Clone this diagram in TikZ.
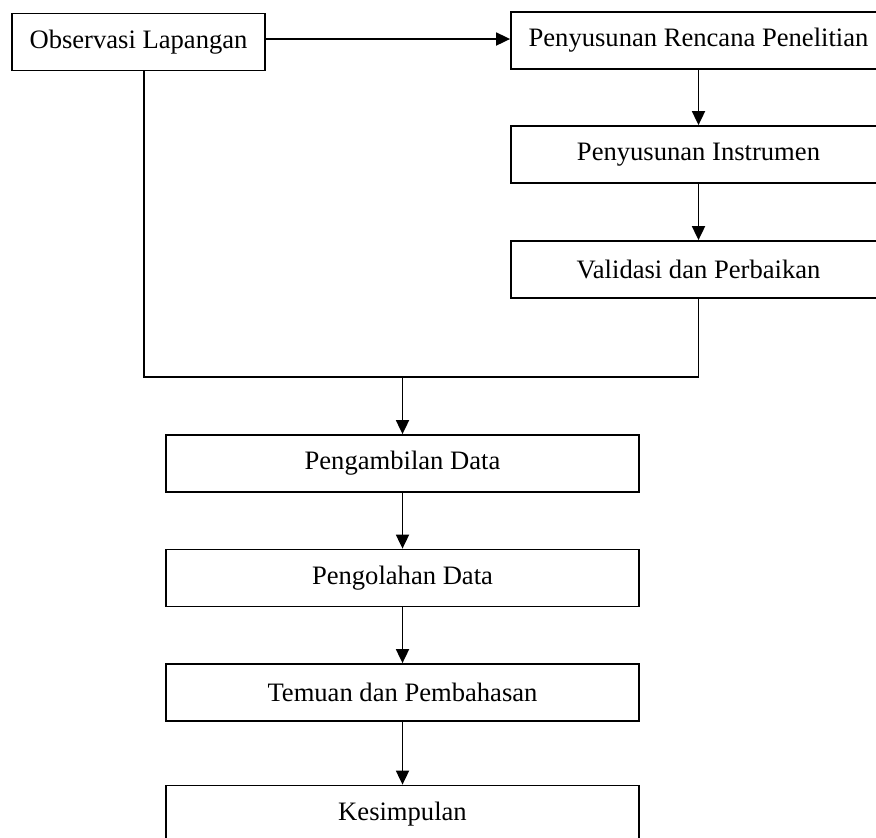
\documentclass[tikz,border=0pt]{standalone}
\usepackage{fontspec}
\setmainfont{Liberation Serif}
\usetikzlibrary{arrows.meta, positioning}

\begin{document}
\begin{tikzpicture}[
    x=0.5pt,
    y=-0.5pt,
    >={Triangle[length=7pt, width=6.5pt]},
    line width=0.9pt,
    box/.style={draw, inner sep=0pt, minimum height=28.5pt,
                font=\fontsize{13.3}{16}\selectfont},
    side/.style={box, minimum width=187.5pt},
    main/.style={box, minimum width=236.5pt},
]
    \useasboundingbox (0,0) rectangle (876,837);
    \clip (0,0) rectangle (876,837);

    \node[box, minimum width=126.5pt] (obs)   at (138.5,42)  {Observasi Lapangan};
    \node[side]                       (renc)  at (698.5,40.5) {Penyusunan Rencana Penelitian};
    \node[side]                       (instr) at (698.5,154.5) {Penyusunan Instrumen};
    \node[side]                       (valid) at (698.5,269.5) {Validasi dan Perbaikan};

    \node[main] (ambil)  at (402.5,463.5) {Pengambilan Data};
    \node[main] (olah)   at (402.5,578)   {Pengolahan Data};
    \node[main] (temuan) at (402.5,692.5) {Temuan dan Pembahasan};
    \node[main] (simpul) at (402.5,814)   {Kesimpulan};

    \coordinate (merge) at (402.5,377);

    \draw[->] ([yshift=1.5pt]obs.east) -- ([yshift=1.5pt]obs.east -| renc.west);
    \draw[->] (renc) -- (instr);
    \draw[->] (instr) -- (valid);

    \draw ([xshift=2.75pt]obs.south) |- (merge) -| (valid.south);

    \draw[->] (merge)  -- (ambil);
    \draw[->] (ambil)  -- (olah);
    \draw[->] (olah)   -- (temuan);
    \draw[->] (temuan) -- (simpul);
\end{tikzpicture}
\end{document}
